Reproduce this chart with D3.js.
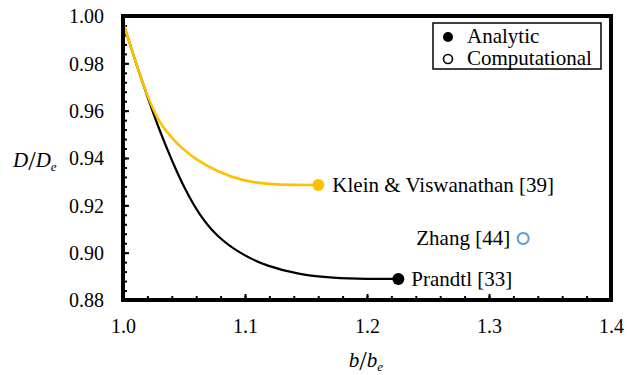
<!DOCTYPE html>
<html>
<head>
<meta charset="utf-8">
<script src="https://cdn.jsdelivr.net/npm/d3@7"></script>
<style>
  html, body { margin: 0; padding: 0; background: #fff; }
</style>
</head>
<body>
<svg id="chart" width="628" height="375" font-family="Liberation Serif, serif"></svg>
<script>
// Prandtl (analytic) curve: span ratio b/be vs drag ratio D/De
const prandtlX = [1.000, 1.010, 1.020, 1.030, 1.040, 1.050, 1.063, 1.077, 1.096, 1.118, 1.145, 1.172, 1.200, 1.2257];
const prandtlY = [0.9975, 0.9810, 0.9660, 0.9515, 0.9390, 0.9275, 0.9155, 0.9068, 0.8996, 0.8942, 0.8907, 0.8893, 0.8889, 0.8889];

// Klein & Viswanathan (analytic) curve
const kleinX = [1.000, 1.010, 1.020, 1.028, 1.033, 1.040, 1.048, 1.058, 1.077, 1.099, 1.120, 1.140, 1.1601];
const kleinY = [0.9975, 0.9810, 0.9660, 0.9570, 0.9530, 0.9485, 0.9443, 0.9400, 0.9342, 0.9302, 0.9289, 0.9286, 0.9286];

// Zhang (computational) single result
const zhangX = [1.328];
const zhangY = [0.906];

const xTicks = [1.0, 1.1, 1.2, 1.3, 1.4];
const yTicks = [0.88, 0.90, 0.92, 0.94, 0.96, 0.98, 1.00];

const svg = d3.select("#chart");
const m = { left: 123, right: 611, top: 16, bottom: 300 };
const serif = "Liberation Serif, serif";

const x = d3.scaleLinear().domain([1.0, 1.4]).range([m.left, m.right]);
const y = d3.scaleLinear().domain([0.88, 1.00]).range([m.bottom, m.top]);

const tickFont = 20;
const labelFont = 21;

// minor ticks (inside the frame)
const xMinor = d3.range(0, 21).map(i => 1.0 + i * 0.02);
const yMinor = d3.range(0, 31).map(i => 0.88 + i * 0.004);

const styleAxis = g => {
  g.attr("font-family", serif).attr("font-size", tickFont);
  g.select(".domain").remove();
  g.selectAll("line").attr("stroke", "#000").attr("stroke-width", 2);
};

svg.append("g")
  .attr("transform", `translate(0,${m.bottom})`)
  .call(d3.axisBottom(x).tickValues(xMinor).tickSize(-4).tickFormat(""))
  .call(styleAxis);

svg.append("g")
  .attr("transform", `translate(${m.left},0)`)
  .call(d3.axisLeft(y).tickValues(yMinor).tickSize(-4).tickFormat(""))
  .call(styleAxis);

// major ticks with labels
svg.append("g")
  .attr("transform", `translate(0,${m.bottom})`)
  .call(d3.axisBottom(x).tickValues(xTicks).tickSize(-6).tickPadding(0).tickFormat(d3.format(".1f")))
  .call(styleAxis)
  .call(g => g.selectAll("text").attr("y", 33).attr("dy", 0).attr("fill", "#000"));

svg.append("g")
  .attr("transform", `translate(${m.left},0)`)
  .call(d3.axisLeft(y).tickValues(yTicks).tickSize(-6).tickPadding(0).tickFormat(d3.format(".2f")))
  .call(styleAxis)
  .call(g => g.selectAll("text").attr("x", -19).attr("dy", "0.34em").attr("fill", "#000"));

// curves (smoothed through the read points)
const line = d3.line().x(d => x(d[0])).y(d => y(d[1])).curve(d3.curveBasis);
const prandtl = d3.zip(prandtlX, prandtlY);
const klein = d3.zip(kleinX, kleinY);

svg.append("path").datum(prandtl).attr("d", line)
  .attr("fill", "none").attr("stroke", "#000").attr("stroke-width", 2.2);
svg.append("path").datum(klein).attr("d", line)
  .attr("fill", "none").attr("stroke", "#FFC000").attr("stroke-width", 2.6);

// end points
const pEnd = prandtl[prandtl.length - 1];
const kEnd = klein[klein.length - 1];
svg.append("circle").attr("cx", x(pEnd[0])).attr("cy", y(pEnd[1])).attr("r", 6).attr("fill", "#000");
svg.append("circle").attr("cx", x(kEnd[0])).attr("cy", y(kEnd[1])).attr("r", 6).attr("fill", "#FFC000");
svg.append("circle").attr("cx", x(zhangX[0])).attr("cy", y(zhangY[0])).attr("r", 5.5)
  .attr("fill", "#fff").attr("stroke", "#5B9BD5").attr("stroke-width", 2);

// point labels
const lbl = (tx, ty, t, anchor) => svg.append("text").attr("x", tx).attr("y", ty)
  .attr("font-size", labelFont)
  .attr("text-anchor", anchor || "start").attr("fill", "#000").text(t);
lbl(x(kEnd[0]) + 14, y(kEnd[1]) + 7, "Klein & Viswanathan [39]");
lbl(x(pEnd[0]) + 13, y(pEnd[1]) + 7, "Prandtl [33]");
lbl(x(zhangX[0]) - 13, y(zhangY[0]) + 7, "Zhang [44]", "end");

// plot frame
svg.append("rect").attr("x", m.left).attr("y", m.top)
  .attr("width", m.right - m.left).attr("height", m.bottom - m.top)
  .attr("fill", "none").attr("stroke", "#000").attr("stroke-width", 4);

// legend
const lg = svg.append("g");
lg.append("rect").attr("x", 433).attr("y", 23).attr("width", 168).attr("height", 46)
  .attr("fill", "#fff").attr("stroke", "#000").attr("stroke-width", 1.5);
lg.append("circle").attr("cx", 448).attr("cy", 37).attr("r", 5).attr("fill", "#000");
lg.append("circle").attr("cx", 448).attr("cy", 59).attr("r", 4.5).attr("fill", "#fff")
  .attr("stroke", "#000").attr("stroke-width", 1.6);
lg.append("text").attr("x", 467).attr("y", 43).attr("font-size", labelFont).text("Analytic");
lg.append("text").attr("x", 467).attr("y", 65).attr("font-size", labelFont).text("Computational");

// axis titles
const yt = svg.append("text").attr("x", 13).attr("y", 167).attr("font-size", labelFont);
yt.append("tspan").attr("font-style", "italic").text("D");
yt.append("tspan").attr("font-size", 27).attr("dy", 3).text("/");
yt.append("tspan").attr("font-style", "italic").attr("dy", -3).text("D");
yt.append("tspan").attr("font-style", "italic").attr("font-size", 13).attr("dy", 4).text("e");

const xt = svg.append("text").attr("x", 366).attr("y", 367).attr("text-anchor", "middle").attr("font-size", labelFont);
xt.append("tspan").attr("font-style", "italic").text("b");
xt.append("tspan").attr("font-size", 27).attr("dy", 3).text("/");
xt.append("tspan").attr("font-style", "italic").attr("dy", -3).text("b");
xt.append("tspan").attr("font-style", "italic").attr("font-size", 13).attr("dy", 4).text("e");
</script>
</body>
</html>
